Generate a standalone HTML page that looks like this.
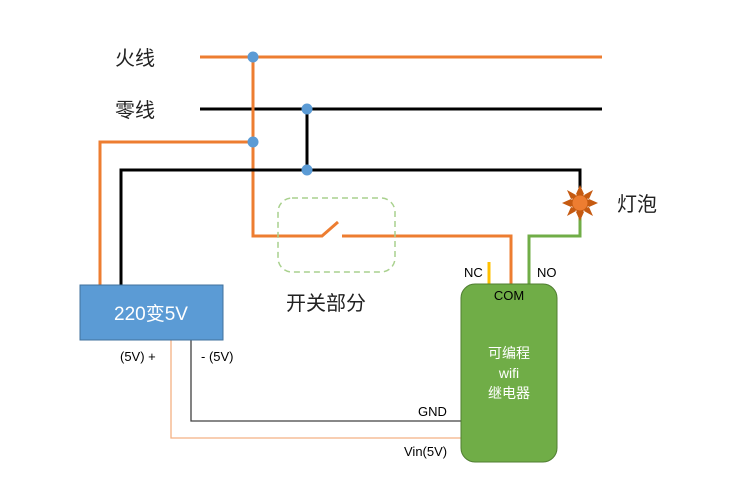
<!DOCTYPE html>
<html><head><meta charset="utf-8"><style>
body{margin:0;background:#fff}
svg{display:block;font-family:"Liberation Sans","Noto Sans CJK SC",sans-serif}
</style></head><body>
<svg width="750" height="482" viewBox="0 0 750 482">
<g fill="none" stroke-width="3">
<line x1="200" y1="57" x2="602" y2="57" stroke="#ED7D31"/>
<line x1="200" y1="109" x2="602" y2="109" stroke="#000"/>
<polyline points="253,57 253,236 322,236 338,222" stroke="#ED7D31"/>
<polyline points="342,236 511,236 511,285" stroke="#ED7D31"/>
<polyline points="253,142 100,142 100,285" stroke="#ED7D31"/>
<line x1="307" y1="109" x2="307" y2="170" stroke="#000"/>
<polyline points="121,285 121,170 580,170 580,188" stroke="#000"/>
<polyline points="529,285 529,236 580,236 580,218" stroke="#70AD47"/>
<line x1="489" y1="262" x2="489" y2="284" stroke="#FFC000"/>
</g>
<g fill="none" stroke-width="1.3">
<polyline points="171,340 171,438 461,438" stroke="#F4B183"/>
<polyline points="191,340 191,421 461,421" stroke="#404040"/>
</g>
<rect x="278" y="198" width="117" height="74" rx="14" fill="none" stroke="#A9D18E" stroke-width="1.5" stroke-dasharray="6,4"/>
<g fill="#5B9BD5">
<circle cx="253" cy="57" r="5.5"/><circle cx="307" cy="109" r="5.5"/>
<circle cx="253" cy="142" r="5.5"/><circle cx="307" cy="170" r="5.5"/>
</g>
<g fill="#C55A11">
<polygon points="580,185 584,194 580,198 576,194"/><polygon points="580,221 584,212 580,208 576,212"/>
<polygon points="562,203 571,199 575,203 571,207"/><polygon points="598,203 589,199 585,203 589,207"/>
<polygon points="567,190 576,195 574,198 571,199"/><polygon points="593,190 584,195 586,198 589,199"/>
<polygon points="567,216 576,211 574,208 571,207"/><polygon points="593,216 584,211 586,208 589,207"/>
</g>
<circle cx="580" cy="203" r="8" fill="#ED7D31" stroke="#C55A11"/>
<rect x="80" y="285" width="143" height="55" fill="#5B9BD5" stroke="#41719C"/>
<text x="151" y="320" font-size="19" fill="#fff" text-anchor="middle">220变5V</text>
<rect x="461" y="284" width="96" height="178" rx="14" fill="#70AD47" stroke="#507E32"/>
<text x="509" y="300" font-size="13" text-anchor="middle" fill="#000">COM</text>
<text x="509" y="358" font-size="14" text-anchor="middle" fill="#fff">可编程</text>
<text x="509" y="378" font-size="14" text-anchor="middle" fill="#fff">wifi</text>
<text x="509" y="398" font-size="14" text-anchor="middle" fill="#fff">继电器</text>
<g font-size="13" fill="#000">
<text x="464" y="277">NC</text><text x="537" y="277">NO</text>
<text x="120" y="361">(5V) +</text><text x="201" y="361">- (5V)</text>
<text x="418" y="416">GND</text><text x="404" y="456">Vin(5V)</text>
</g>
<g font-size="20" fill="#222">
<text x="115" y="65">火线</text><text x="115" y="117">零线</text>
<text x="617" y="211">灯泡</text><text x="286" y="310">开关部分</text>
</g>
</svg>
</body></html>
